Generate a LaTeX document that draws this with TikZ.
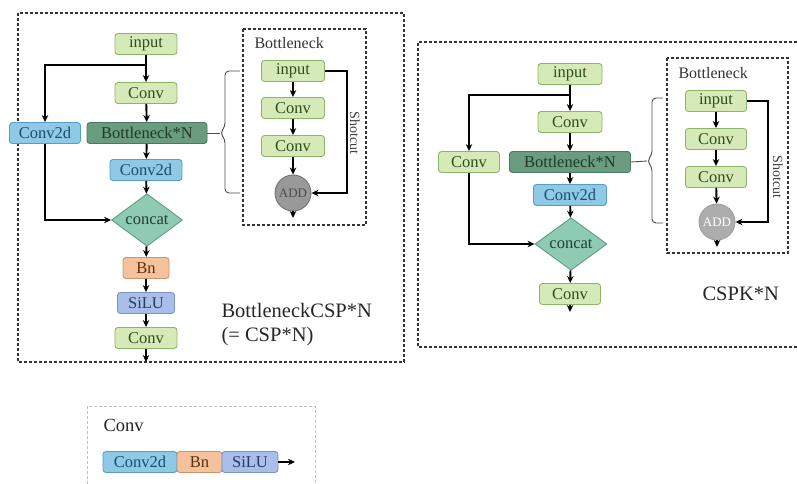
\documentclass[tikz,border=0pt]{standalone}
\usepackage{fontspec}
\setmainfont{Liberation Serif}
\usetikzlibrary{arrows.meta,shapes.geometric}

\definecolor{convfill}{HTML}{D6EAB8}
\definecolor{convdraw}{HTML}{8DB56A}
\definecolor{convtext}{HTML}{2E4D1F}
\definecolor{bnnfill}{HTML}{6A9C80}
\definecolor{bnndraw}{HTML}{4A7A60}
\definecolor{bnntext}{HTML}{1F3A2A}
\definecolor{c2dfill}{HTML}{8ECAE6}
\definecolor{c2ddraw}{HTML}{5A9CC4}
\definecolor{c2dtext}{HTML}{1D4A6E}
\definecolor{catfill}{HTML}{8FCBB2}
\definecolor{catdraw}{HTML}{5E9C86}
\definecolor{cattext}{HTML}{1F3F33}
\definecolor{bnfill}{HTML}{F5C29C}
\definecolor{bndraw}{HTML}{C9956E}
\definecolor{bntext}{HTML}{5A2E10}
\definecolor{silufill}{HTML}{A9BFE9}
\definecolor{siludraw}{HTML}{7A92C4}
\definecolor{silutext}{HTML}{253A66}

\tikzset{
    blk/.style={draw, rounded corners=3pt, line width=0.9pt, inner sep=0pt,
        minimum height=21pt, font=\fontsize{16.5}{16.5}\selectfont},
    convbox/.style={blk, fill=convfill, draw=convdraw, text=convtext},
    bnnbox/.style={blk, fill=bnnfill, draw=bnndraw, text=bnntext},
    c2dbox/.style={blk, fill=c2dfill, draw=c2ddraw, text=c2dtext},
    bnbox/.style={blk, fill=bnfill, draw=bndraw, text=bntext},
    silubox/.style={blk, fill=silufill, draw=siludraw, text=silutext},
    catbox/.style={diamond, draw=catdraw, fill=catfill, text=cattext, line width=0.9pt,
        inner sep=0pt, minimum width=71pt, minimum height=46pt, font=\fontsize{16.5}{16.5}\selectfont},
    addnode/.style={circle, minimum size=36pt, inner sep=0pt, line width=0.9pt,
        font=\fontsize{13}{13}\selectfont},
    arr/.style={-{Stealth[length=7pt,width=6.5pt]}, line width=1.9pt},
    bracel/.style={draw=black!70, line width=0.9pt, rounded corners=4pt},
    outerbox/.style={draw=black!80, line width=1.2pt, dash pattern=on 3pt off 2pt},
    innerbox/.style={draw=black!80, line width=1.2pt, dash pattern=on 3pt off 2pt},
    legendbox/.style={draw=black!25, line width=0.8pt, dash pattern=on 3pt off 2pt},
    bigtext/.style={font=\fontsize{20.5}{24}\selectfont, text=black!85},
    titletext/.style={font=\fontsize{16}{16}\selectfont, text=black!80},
    cuttext/.style={font=\fontsize{14}{14}\selectfont, text=black!75, rotate=-90},
}

\begin{document}
\begin{tikzpicture}[x=1pt,y=-1pt]
    \useasboundingbox (0,0) rectangle (797,484);

    \draw[outerbox] (18,13) rectangle (404,362);
    \draw[innerbox] (243,29) rectangle (366,225);

    \node[convbox, minimum width=62pt] (lin) at (146,44) {input};
    \node[convbox, minimum width=62pt] (lconv) at (146,93) {Conv};
    \node[bnnbox, minimum width=120pt] (lbnn) at (147,133) {Bottleneck*N};
    \node[c2dbox, minimum width=71pt] (lside) at (45,133) {Conv2d};
    \node[c2dbox, minimum width=72pt] (lc2d) at (146,170) {Conv2d};
    \node[catbox] (lcat) at (147,220) {concat};
    \node[bnbox, minimum width=46pt] (lbn) at (146,268) {Bn};
    \node[silubox, minimum width=57pt] (lsilu) at (146,303) {SiLU};
    \node[convbox, minimum width=62pt] (lout) at (146,338) {Conv};
    \coordinate (lsplit) at (146,65);
    \coordinate (lend) at (146,362);

    \draw[arr] (lin) -- (lconv);
    \draw[arr] (lsplit) -| (lside);
    \draw[arr] (lconv) -- (lbnn);
    \draw[arr] (lbnn) -- (lc2d);
    \draw[arr] (lc2d) -- (lcat);
    \draw[arr] (lside) |- (lcat);
    \draw[arr] (lcat) -- (lbn);
    \draw[arr] (lbn) -- (lsilu);
    \draw[arr] (lsilu) -- (lout);
    \draw[arr] (lout) -- (lend);

    \node[titletext, anchor=west] (lbtitle) at (251,43) {Bottleneck};
    \node[convbox, minimum width=63pt] (lbin) at (293,71) {input};
    \node[convbox, minimum width=63pt] (lbc1) at (293,108) {Conv};
    \node[convbox, minimum width=63pt] (lbc2) at (293,146) {Conv};
    \node[addnode, fill=black!40, draw=black!55, text=black!70] (lbadd) at (293,193) {ADD};
    \node[cuttext] (lcut) at (355,133) {Shotcut};
    \coordinate (lbend) at (293,218);

    \draw[arr] (lbin) -- (lbc1);
    \draw[arr] (lbc1) -- (lbc2);
    \draw[arr] (lbc2) -- (lbadd);
    \draw[arr] (lbadd) -- (lbend);
    \draw[arr] (lbin.east) -- ++(22,0) |- (lbadd.east);

    \coordinate (lbrace) at (220,133);
    \draw[bracel] (240,71) -| (225,127) -- (lbrace) -- (225,139) |- (240,193);
    \draw[line width=0.9pt, black!70] (lbnn.east) -- (lbrace);

    \node[bigtext, anchor=west, align=left] (lname) at (218,325) {BottleneckCSP*N\\(= CSP*N)};

    \draw[outerbox] (797,42) -- (418,42) -- (418,347) -- (797,347);
    \draw[innerbox] (667,58) rectangle (788,253);

    \node[convbox, minimum width=64pt] (rin) at (570,74) {input};
    \node[convbox, minimum width=64pt] (rconv) at (570,122) {Conv};
    \node[bnnbox, minimum width=121pt] (rbnn) at (570,162) {Bottleneck*N};
    \node[convbox, minimum width=61pt] (rside) at (469,162) {Conv};
    \node[c2dbox, minimum width=73pt] (rc2d) at (570,195) {Conv2d};
    \node[catbox, minimum width=72pt] (rcat) at (571,244) {concat};
    \node[convbox, minimum width=61pt] (rout) at (570,294) {Conv};
    \coordinate (rsplit) at (570,95);
    \coordinate (rend) at (570,312);

    \draw[arr] (rin) -- (rconv);
    \draw[arr] (rsplit) -| (rside);
    \draw[arr] (rconv) -- (rbnn);
    \draw[arr] (rbnn) -- (rc2d);
    \draw[arr] (rc2d) -- (rcat);
    \draw[arr] (rside) |- (rcat);
    \draw[arr] (rcat) -- (rout);
    \draw[arr] (rout) -- (rend);

    \node[titletext, anchor=west] (rbtitle) at (675,73) {Bottleneck};
    \node[convbox, minimum width=61pt] (rbin) at (716,101) {input};
    \node[convbox, minimum width=61pt] (rbc1) at (716,139) {Conv};
    \node[convbox, minimum width=61pt] (rbc2) at (716,177) {Conv};
    \node[addnode, fill=black!32, draw=black!38, text=white] (rbadd) at (717,222) {ADD};
    \node[cuttext] (rcut) at (778,177) {Shotcut};
    \coordinate (rbend) at (717,247);

    \draw[arr] (rbin) -- (rbc1);
    \draw[arr] (rbc1) -- (rbc2);
    \draw[arr] (rbc2) -- (rbadd);
    \draw[arr] (rbadd) -- (rbend);
    \draw[arr] (rbin.east) -- ++(21,0) |- (rbadd.east);

    \coordinate (rbrace) at (647,161);
    \draw[bracel] (663,98) -| (652,155) -- (rbrace) -- (652,167) |- (663,223);
    \draw[line width=0.9pt, black!70] (rbnn.east) -- (rbrace);

    \node[bigtext, anchor=west] (rname) at (699,294) {CSPK*N};

    \draw[legendbox] (87,484) -- (87,406) -- (315,406) -- (315,484);
    \node[font=\fontsize{18.5}{18.5}\selectfont, text=black!85, anchor=west] (legname) at (100,425) {Conv};
    \node[c2dbox, minimum width=74pt] (legc2d) at (140,462) {Conv2d};
    \node[bnbox, minimum width=45pt] (legbn) at (199.5,462) {Bn};
    \node[silubox, minimum width=56pt] (legsilu) at (250,462) {SiLU};
    \coordinate (legend) at (295,462);
    \draw[arr] (legsilu) -- (legend);

\end{tikzpicture}
\end{document}
